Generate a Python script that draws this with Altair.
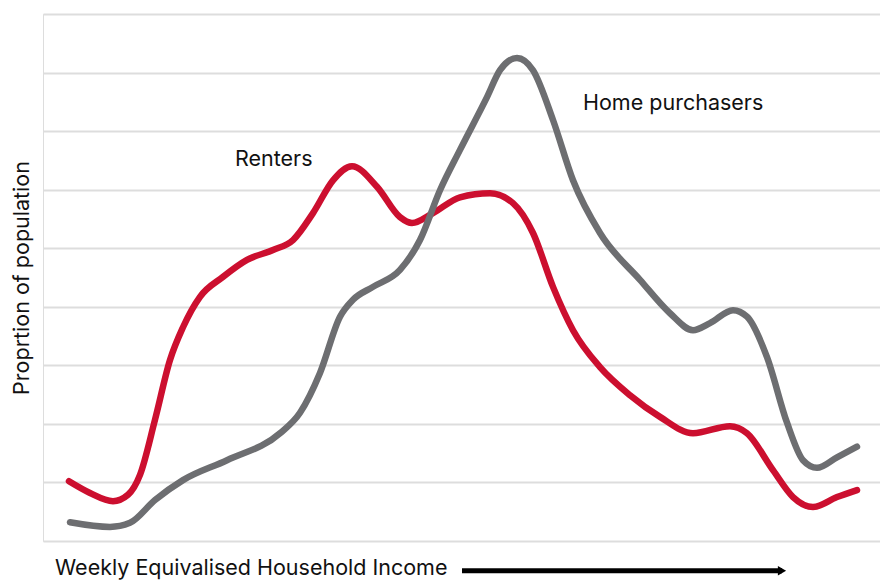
import altair as alt
import pandas as pd

# Renters curve (x: income index, y: proportion, arbitrary units)
renters_x = [0.1, 2.2, 4.5, 6.0, 7.2, 8.7, 10.2, 11.5, 13.2, 15.5, 17.9, 20.5, 22.5, 24.5,
             26.5, 28.4, 30.9, 33.2, 34.4, 36.5, 39.2, 42.2, 44.5, 46.5, 48.5, 50.5, 53.2,
             56.2, 59.2, 62.5, 66.2, 67.9, 70.5, 72.5, 74.5, 76.9, 78.9]
renters_y = [1.02, 0.82, 0.68, 0.79, 1.13, 2.07, 3.09, 3.65, 4.17, 4.51, 4.80, 4.97, 5.14, 5.60,
             6.16, 6.40, 6.05, 5.53, 5.43, 5.60, 5.87, 5.94, 5.77, 5.26, 4.34, 3.60, 2.97,
             2.49, 2.12, 1.84, 1.96, 1.84, 1.21, 0.75, 0.58, 0.75, 0.87]

# Home purchasers curve
home_x = [0.2, 4.2, 6.2, 8.7, 11.5, 15.9, 21.2, 23.2, 25.2, 27.2, 28.5, 30.5, 33.2, 35.2,
          37.2, 39.2, 41.9, 43.2, 44.9, 46.5, 48.5, 50.5, 53.2, 57.2, 60.2, 62.5, 64.2,
          66.5, 67.9, 69.9, 71.9, 73.5, 74.9, 76.9, 78.9]
home_y = [0.32, 0.24, 0.31, 0.70, 1.04, 1.38, 1.84, 2.19, 2.87, 3.83, 4.12, 4.34, 4.63, 5.14,
          5.99, 6.68, 7.58, 8.04, 8.25, 8.04, 7.19, 6.16, 5.26, 4.46, 3.89, 3.60, 3.72,
          3.94, 3.83, 3.14, 2.02, 1.38, 1.25, 1.43, 1.61]

series_names = ["Renters", "Home purchasers"]
series_colors = ["#cc0f2f", "#6d6e71"]

# Direct labels
label_text = ["Renters", "Home purchasers"]
label_x = [16.7, 51.5]
label_y = [6.51, 7.46]

x_title = "Weekly Equivalised Household Income"
y_title = "Proprtion of population"
arrow_start, arrow_end, arrow_y = 39.4, 71.4, -0.51
x_title_x, x_title_y = -1.3, -0.47

FONT = "Inter"
FSIZE = 21.5

df = pd.concat([
    pd.DataFrame({"income": renters_x, "share": renters_y, "group": series_names[0]}),
    pd.DataFrame({"income": home_x, "share": home_y, "group": series_names[1]}),
])
labels = pd.DataFrame({"income": label_x, "share": label_y, "text": label_text})
xt = pd.DataFrame({"income": [x_title_x], "share": [x_title_y], "text": [x_title]})
arrow = pd.DataFrame({"x1": [arrow_start], "x2": [arrow_end], "share": [arrow_y]})
head = pd.DataFrame({"income": [arrow_end], "share": [arrow_y]})

xscale = alt.Scale(domain=[-2.5, 81.2], nice=False, zero=False)
yscale = alt.Scale(domain=[0, 9], nice=False, zero=False)

lines = alt.Chart(df).mark_line(
    interpolate="monotone", strokeWidth=6.5, strokeCap="round", clip=False
).encode(
    x=alt.X("income:Q", scale=xscale, axis=None),
    y=alt.Y("share:Q", scale=yscale,
            axis=alt.Axis(values=list(range(10)), labels=False, ticks=False, domain=False,
                          grid=True, gridColor="#dddddd", gridWidth=2,
                          title=y_title, titleFont=FONT, titleFontSize=FSIZE,
                          titleFontWeight="normal", titleColor="#111111", titlePadding=10)),
    color=alt.Color("group:N", scale=alt.Scale(domain=series_names, range=series_colors),
                    legend=None),
)

text_labels = alt.Chart(labels).mark_text(
    align="left", baseline="middle", font=FONT, fontSize=FSIZE, color="#111111"
).encode(x=alt.X("income:Q", scale=xscale), y=alt.Y("share:Q", scale=yscale), text="text:N")

x_title_mark = alt.Chart(xt).mark_text(
    align="left", baseline="middle", font=FONT, fontSize=FSIZE, color="#111111", clip=False
).encode(x=alt.X("income:Q", scale=xscale), y=alt.Y("share:Q", scale=yscale), text="text:N")

arrow_line = alt.Chart(arrow).mark_rule(strokeWidth=5, color="#000000", clip=False).encode(
    x=alt.X("x1:Q", scale=xscale), x2="x2:Q", y=alt.Y("share:Q", scale=yscale)
)
arrow_head = alt.Chart(head).mark_point(
    shape="triangle-right", filled=True, size=90, color="#000000", opacity=1, clip=False
).encode(x=alt.X("income:Q", scale=xscale), y=alt.Y("share:Q", scale=yscale))

chart = alt.layer(lines, text_labels, x_title_mark, arrow_line, arrow_head).properties(
    width=837, height=527,
    autosize=alt.AutoSizeParams(type="none"),
    padding={"left": 35, "top": 6, "right": 0, "bottom": 40},
).configure_view(stroke=None).configure(background="white")

chart.save("out.html", embed_options={"renderer": "svg", "actions": False})
